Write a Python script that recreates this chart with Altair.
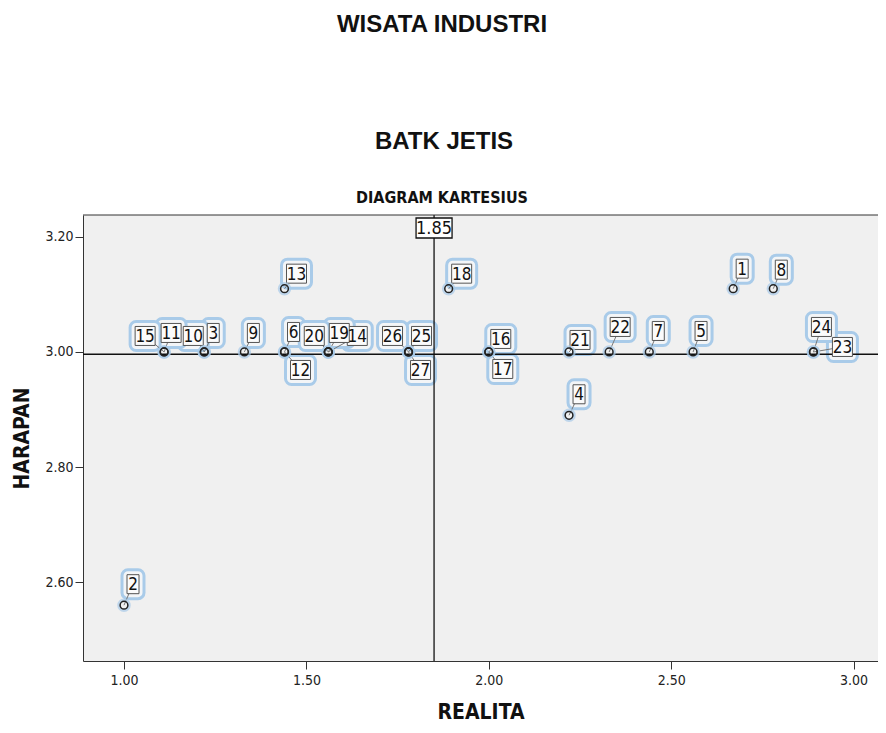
import altair as alt
import pandas as pd

# ---------------- data ----------------
ids = list(range(1, 28))
realita = [2.67, 1.00, 1.22, 2.22, 2.56, 1.44, 2.44, 2.78, 1.33, 1.22,
           1.11, 1.44, 1.44, 1.56, 1.11, 2.00, 2.00, 1.89, 1.56, 1.56,
           2.22, 2.33, 2.89, 2.89, 1.78, 1.78, 1.78]
harapan = [3.11, 2.56, 3.00, 2.89, 3.00, 3.00, 3.00, 3.11, 3.00, 3.00,
           3.00, 3.00, 3.11, 3.00, 3.00, 3.00, 3.00, 3.11, 3.00, 3.00,
           3.00, 3.00, 3.00, 3.00, 3.00, 3.00, 3.00]
x_ref = [1.85]
y_ref = [2.996]
x_ticks = [1.00, 1.50, 2.00, 2.50, 3.00]
y_ticks = [2.60, 2.80, 3.00, 3.20]
titles = ["WISATA INDUSTRI", "BATK JETIS", "DIAGRAM KARTESIUS"]
x_title = "REALITA"
y_title = "HARAPAN"

# ---------------- layout (label offsets in px, right / up) ----------------
label_dx = [9, 9, 9, 10, 8, 9, 9, 8, 9, -11, 7, 16, 12, 29, -19, 12, 14, 13,
            11, -14, 11, 11, 29, 8, 13, -16, 12]
label_dy = [20, 21, 19, 21, 21, 20, 21, 19, 19, 16, 19, -18, 15, 16, 16, 13,
            -17, 15, 19, 16, 12, 25, 5, 25, 16, 16, -18]

W, H = 795, 446
XDOM = [0.8876, 3.067]
YDOM = [2.463, 3.238]
PXX = W / (XDOM[1] - XDOM[0])
PXY = H / (YDOM[1] - YDOM[0])

NARROW = "Liberation Sans Narrow, Arial Narrow, DejaVu Sans Condensed, sans-serif"
REG = "Liberation Sans, Arial, sans-serif"

df = pd.DataFrame({"id": ids, "realita": realita, "harapan": harapan,
                   "dx": label_dx, "dy": label_dy})
df["label"] = df["id"].astype(str)
df["lx"] = df.realita + df.dx / PXX
df["ly"] = df.harapan + df.dy / PXY
bw = df.label.str.len().map({1: 12, 2: 20})
bh = 19
pad = 5
df["bx1"] = df.lx - bw / 2 / PXX
df["bx2"] = df.lx + bw / 2 / PXX
df["by1"] = df.ly - bh / 2 / PXY
df["by2"] = df.ly + bh / 2 / PXY
df["hx1"] = df.lx - (bw / 2 + pad) / PXX
df["hx2"] = df.lx + (bw / 2 + pad) / PXX
df["hy1"] = df.ly - (bh / 2 + pad) / PXY
df["hy2"] = df.ly + (bh / 2 + pad) / PXY

xs = alt.Scale(domain=XDOM, nice=False, zero=False)
ys = alt.Scale(domain=YDOM, nice=False, zero=False)

xaxis = alt.Axis(values=x_ticks, format=".2f", title=x_title, grid=False,
                 tickSize=8, tickColor="#333", domainColor="#333",
                 labelFont=NARROW, labelFontSize=14, labelColor="#222",
                 labelPadding=4, titleFont=NARROW, titleFontSize=21,
                 titleFontWeight="bold", titleColor="#111", titlePadding=14)
yaxis = alt.Axis(values=y_ticks, format=".2f", title=y_title, grid=False,
                 tickSize=8, tickColor="#333", domainColor="#333",
                 labelFont=NARROW, labelFontSize=14, labelColor="#222",
                 labelPadding=2, titleFont=NARROW, titleFontSize=21,
                 titleFontWeight="bold", titleColor="#111", titlePadding=12)

X = lambda f: alt.X(f, type="quantitative", scale=xs, axis=xaxis)
Y = lambda f: alt.Y(f, type="quantitative", scale=ys, axis=yaxis)

base = alt.Chart(df)

halo = base.mark_rect(cornerRadius=6, fill="#f3f5f7", stroke="#a9cbe9",
                      strokeWidth=3).encode(x=X("hx1"), x2="hx2", y=Y("hy1"), y2="hy2")

ref_df = pd.DataFrame({"xr": x_ref, "yr": y_ref})
vline = alt.Chart(ref_df).mark_rule(color="#111", strokeWidth=1.3).encode(x=X("xr"))
hline = alt.Chart(ref_df).mark_rule(color="#111", strokeWidth=1.3).encode(y=Y("yr"))

leader = base.mark_rule(color="#777", strokeWidth=1).encode(
    x=X("realita"), x2="lx", y=Y("harapan"), y2="ly")

box = base.mark_rect(fill="#fbfbfb", stroke="#555", strokeWidth=1).encode(
    x=X("bx1"), x2="bx2", y=Y("by1"), y2="by2")

pt_halo = base.mark_point(shape="circle", size=110, filled=False,
                          stroke="#a9cbe9", strokeWidth=3).encode(
    x=X("realita"), y=Y("harapan"))
pts = base.mark_point(shape="circle", size=60, filled=False, stroke="#222",
                      strokeWidth=1.5, opacity=1).encode(x=X("realita"), y=Y("harapan"))

txt = base.mark_text(font=NARROW, fontSize=17, color="#111", baseline="middle",
                     align="center", dy=1).encode(x=X("lx"), y=Y("ly"), text="label")

ref_df["rx1"] = ref_df.xr - 18 / PXX
ref_df["rx2"] = ref_df.xr + 18 / PXX
ref_df["rlab"] = ref_df.xr.map(lambda v: f"{v:.2f}")
refbox = alt.Chart(ref_df).mark_rect(fill="white", stroke="#111", strokeWidth=1.3).encode(
    x=X("rx1"), x2="rx2", y=alt.value(3), y2=alt.value(23))
reftxt = alt.Chart(ref_df).mark_text(font=NARROW, fontSize=18, color="#111",
                                     baseline="middle", align="center").encode(
    x=X("xr"), y=alt.value(13.5), text="rlab")

top_border = alt.Chart(ref_df).mark_rule(color="#333", strokeWidth=1).encode(
    x=alt.value(0), x2=alt.value(W), y=alt.value(0))

tdf = pd.DataFrame({"t": titles})
t1 = alt.Chart(tdf.iloc[[0]]).mark_text(font=REG, fontSize=24, fontWeight="bold",
                                        color="#111", baseline="middle").encode(
    x=alt.value(359), y=alt.value(-190), text="t")
t2 = alt.Chart(tdf.iloc[[1]]).mark_text(font=REG, fontSize=24, fontWeight="bold",
                                        color="#111", baseline="middle").encode(
    x=alt.value(361), y=alt.value(-73), text="t")
t3 = alt.Chart(tdf.iloc[[2]]).mark_text(font=NARROW, fontSize=16, fontWeight="bold",
                                        color="#111", baseline="middle").encode(
    x=alt.value(359), y=alt.value(-17), text="t")

chart = alt.layer(
    halo, vline, hline, leader, box, pt_halo, pts, txt, refbox, reftxt,
    top_border, t1, t2, t3
).properties(
    width=W, height=H,
    padding={"left": 75, "top": 207, "right": 0, "bottom": 64},
    autosize=alt.AutoSizeParams(type="none"),
    background="white",
).configure_view(fill="#f0f0f0", stroke=None)

chart.save("out.html", embed_options={"renderer": "svg", "actions": False})
